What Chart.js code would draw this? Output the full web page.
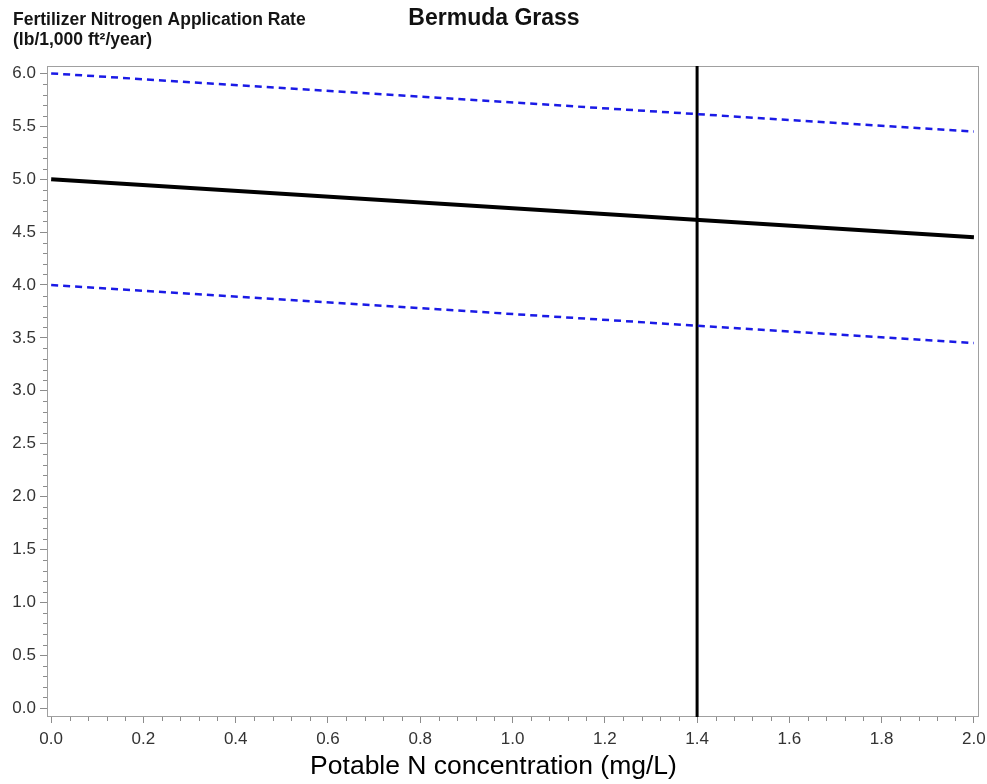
<!DOCTYPE html>
<html>
<head>
<meta charset="utf-8">
<title>Bermuda Grass</title>
<script src="https://cdn.jsdelivr.net/npm/chart.js@4.4.0/dist/chart.umd.min.js"></script>
<style>
  html, body { margin: 0; padding: 0; background: #fff; }
</style>
</head>
<body>
<canvas id="myChart" width="987" height="784"></canvas>
<script>
// values
const concentration = [0.0, 2.0];   // potable N, mg/L
const rateMid = [5.0, 4.45];
const rateHigh = [6.0, 5.45];
const rateLow = [4.0, 3.45];
const markerX = 1.4;

const xTicks = [0.0, 0.2, 0.4, 0.6, 0.8, 1.0, 1.2, 1.4, 1.6, 1.8, 2.0];
const yTicks = [0.0, 0.5, 1.0, 1.5, 2.0, 2.5, 3.0, 3.5, 4.0, 4.5, 5.0, 5.5, 6.0];

const chartTitle = 'Bermuda Grass';
const yTitle = ['Fertilizer Nitrogen Application Rate', '(lb/1,000 ft²/year)'];
const xTitle = 'Potable N concentration (mg/L)';

// axis extents (a little room around the ticks, like the original)
const xMin = -0.009, xMax = 2.011;
const yMin = -0.085, yMax = 6.07;

const FONT = '"Liberation Sans", Arial, Helvetica, sans-serif';

const toPoints = (xs, ys) => xs.map((x, i) => ({ x: x, y: ys[i] }));

// box round the plot, minor ticks, the y caption top left and the x caption
const framePlugin = {
  id: 'framePlugin',
  beforeDatasetsDraw(chart) {
    const { ctx, chartArea: a } = chart;
    ctx.save();
    ctx.strokeStyle = '#a0a0a0';
    ctx.lineWidth = 1;
    ctx.strokeRect(a.left + 0.5, a.top + 0.5, a.width - 1, a.height - 1);
    ctx.restore();
  },
  afterDraw(chart) {
    const { ctx, chartArea: a, scales } = chart;
    ctx.save();
    ctx.strokeStyle = '#8c8c8c';
    ctx.lineWidth = 1;
    ctx.beginPath();
    for (let i = 0; i < xTicks.length - 1; i++) {
      for (let k = 1; k < 5; k++) {
        const v = xTicks[i] + (xTicks[i + 1] - xTicks[i]) * k / 5;
        const px = Math.round(scales.x.getPixelForValue(v)) + 0.5;
        ctx.moveTo(px, a.bottom);
        ctx.lineTo(px, a.bottom + 4);
      }
    }
    for (let i = 0; i < yTicks.length - 1; i++) {
      for (let k = 1; k < 5; k++) {
        const v = yTicks[i] + (yTicks[i + 1] - yTicks[i]) * k / 5;
        const py = Math.round(scales.y.getPixelForValue(v)) + 0.5;
        ctx.moveTo(a.left, py);
        ctx.lineTo(a.left - 4, py);
      }
    }
    ctx.stroke();

    ctx.fillStyle = '#151515';
    ctx.font = 'bold 17.5px ' + FONT;
    ctx.textAlign = 'left';
    ctx.textBaseline = 'middle';
    ctx.fillText(yTitle[0], 13, 20);
    ctx.fillText(yTitle[1], 13, 40);

    // x caption sits centred on the whole page, not on the plot
    ctx.fillStyle = '#000';
    ctx.font = '26.5px ' + FONT;
    ctx.textAlign = 'center';
    ctx.fillText(xTitle, chart.width / 2, 767);
    ctx.restore();
  }
};

const lineStyle = (color, width, dash) => ({
  showLine: true,
  borderColor: color,
  backgroundColor: color,
  borderWidth: width,
  borderDash: dash,
  pointRadius: 0,
  fill: false
});

new Chart('myChart', {
  type: 'scatter',
  data: {
    datasets: [
      Object.assign({ label: 'upper', data: toPoints(concentration, rateHigh) }, lineStyle('#1a1ae6', 2.5, [7, 5])),
      Object.assign({ label: 'lower', data: toPoints(concentration, rateLow) }, lineStyle('#1a1ae6', 2.5, [7, 5])),
      Object.assign({ label: 'rate', data: toPoints(concentration, rateMid) }, lineStyle('#000000', 4, [])),
      Object.assign({ label: 'marker', data: [{ x: markerX, y: yMin }, { x: markerX, y: yMax }] }, lineStyle('#000000', 3, []))
    ]
  },
  options: {
    responsive: false,
    animation: false,
    devicePixelRatio: 1,
    layout: { padding: { left: 9, right: 8, top: 0, bottom: 0 } },
    plugins: {
      legend: { display: false },
      tooltip: { enabled: false },
      title: {
        display: true,
        text: chartTitle,
        color: '#111',
        font: { family: FONT, size: 23, weight: 'bold' },
        padding: { top: 5, bottom: 33.4 }
      }
    },
    scales: {
      x: {
        type: 'linear',
        min: xMin,
        max: xMax,
        afterBuildTicks: s => { s.ticks = xTicks.map(v => ({ value: v })); },
        afterFit: s => { s.height = 67; s.paddingLeft = 0; s.paddingRight = 0; },
        border: { display: false },
        grid: { drawOnChartArea: false, tickLength: 6, tickColor: '#8c8c8c' },
        ticks: {
          color: '#333',
          padding: 6,
          maxRotation: 0,
          font: { family: FONT, size: 17 },
          callback: v => Number(v).toFixed(1)
        }
      },
      y: {
        type: 'linear',
        min: yMin,
        max: yMax,
        afterBuildTicks: s => { s.ticks = yTicks.map(v => ({ value: v })); },
        afterFit: s => { s.width = 38; s.paddingTop = 0; s.paddingBottom = 0; },
        border: { display: false },
        grid: { drawOnChartArea: false, tickLength: 7, tickColor: '#8c8c8c' },
        ticks: {
          color: '#333',
          padding: 4,
          font: { family: FONT, size: 17 },
          callback: v => Number(v).toFixed(1)
        }
      }
    }
  },
  plugins: [framePlugin]
});
</script>
</body>
</html>
